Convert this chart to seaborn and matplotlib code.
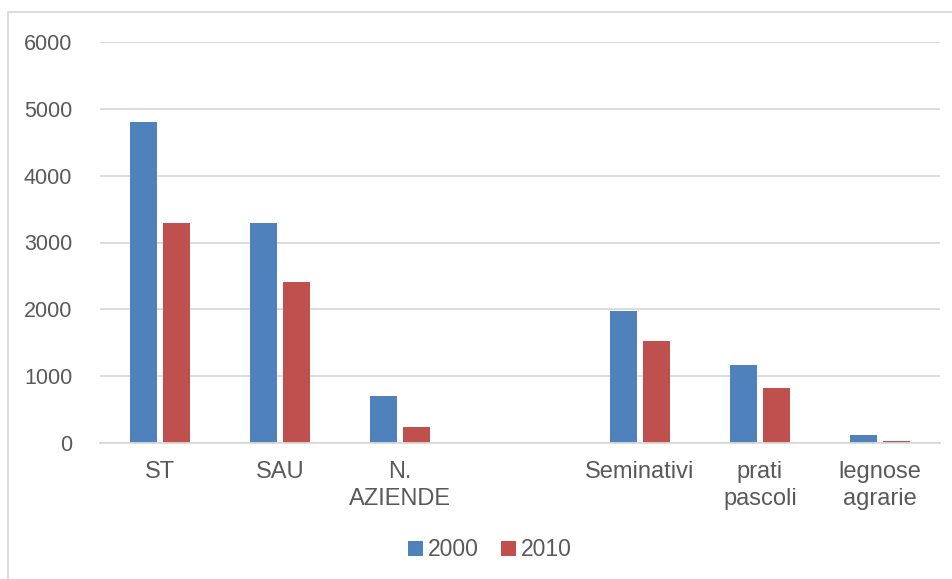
import pandas as pd
import seaborn as sns
import matplotlib.pyplot as plt
from matplotlib.patches import Rectangle

# Data
categories = ["ST", "SAU", "N.\nAZIENDE", "Seminativi", "prati\npascoli", "legnose\nagrarie"]
order = ["ST", "SAU", "N.\nAZIENDE", " ", "Seminativi", "prati\npascoli", "legnose\nagrarie"]
years = ["2000", "2010"]
values_2000 = [4800, 3290, 710, 1980, 1160, 125]
values_2010 = [3290, 2405, 235, 1530, 820, 30]
colors = ["#4F81BD", "#C0504D"]

df = pd.DataFrame({
    "categoria": categories * 2,
    "anno": [years[0]] * len(categories) + [years[1]] * len(categories),
    "valore": values_2000 + values_2010,
})

sns.set_style("white")
plt.rcParams["font.family"] = ["Liberation Sans", "DejaVu Sans"]
text_color = "#595959"
grid_color = "#D9D9D9"

fig = plt.figure(figsize=(9.53, 5.79), dpi=100)
ax = fig.add_axes([100 / 953, 1 - 443 / 579, 840 / 953, 401 / 579])

sns.barplot(
    data=df,
    x="categoria",
    y="valore",
    hue="anno",
    order=order,
    hue_order=years,
    palette=colors,
    width=0.56,
    gap=0.2,
    saturation=1,
    edgecolor="none",
    ax=ax,
)

ax.set_ylim(0, 6000)
ax.set_xlim(-0.5, len(order) - 0.5)
ax.set_yticks(range(0, 6001, 1000))
ax.yaxis.grid(True, color=grid_color, linewidth=1.3)
ax.set_axisbelow(True)
for side in ["top", "right", "left"]:
    ax.spines[side].set_visible(False)
ax.spines["bottom"].set_color(grid_color)
ax.spines["bottom"].set_linewidth(1.3)

ax.tick_params(axis="y", length=0, pad=20, labelsize=15.5, labelcolor=text_color)
ax.tick_params(axis="x", length=0, pad=13, labelsize=17, labelcolor=text_color)
for lbl in ax.get_xticklabels():
    lbl.set_linespacing(1.3)
ax.set_xlabel("")
ax.set_ylabel("")

ax.legend(
    loc="center",
    bbox_to_anchor=(490 / 953, 1 - 550 / 579),
    bbox_transform=fig.transFigure,
    ncol=2,
    frameon=False,
    fontsize=16.5,
    labelcolor=text_color,
    handlelength=0.65,
    handleheight=0.65,
    handletextpad=0.2,
    columnspacing=1.0,
)

# outer chart border
fig.patches.append(Rectangle(
    (8 / 953, -0.02), 1.1, 1 - 12 / 579 + 0.02,
    transform=fig.transFigure, fill=False, edgecolor=grid_color, linewidth=1.3,
))

fig.savefig("out.png", dpi=100)
